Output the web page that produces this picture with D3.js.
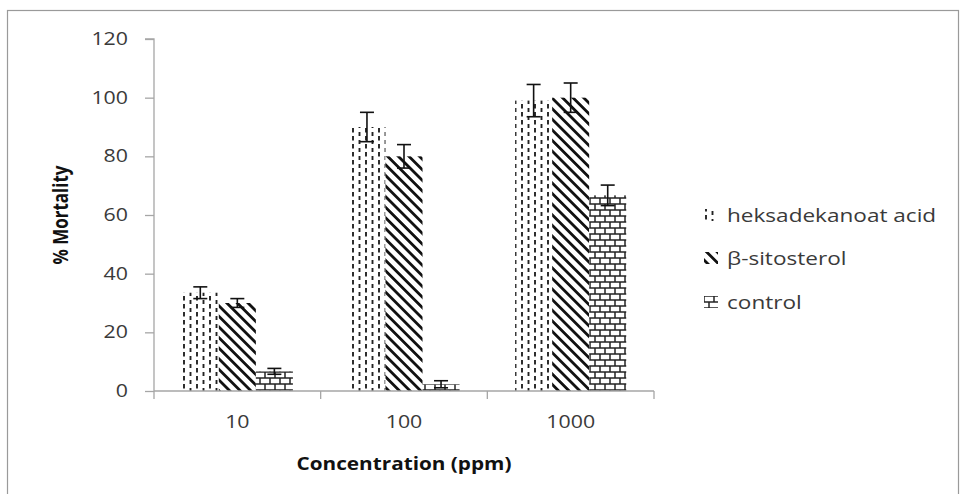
<!DOCTYPE html>
<html><head><meta charset="utf-8">
<script src="https://cdn.jsdelivr.net/npm/d3@7"></script>
<style>body{margin:0;background:#fff}svg{display:block}text{font-family:"Open Sans",sans-serif}</style>
</head><body>
<svg id="c" width="967" height="494"></svg>
<script>
const categories = ["10", "100", "1000"];
const series = ["heksadekanoat acid", "β-sitosterol", "control"];
const heksValues = [33.5, 90, 99];
const heksErrors = [2, 5, 5.5];
const sitoValues = [30, 80, 100];
const sitoErrors = [1.5, 4, 5];
const controlValues = [6.7, 2.3, 66.7];
const controlErrors = [1, 1.2, 3.5];
const yTicks = [0, 20, 40, 60, 80, 100, 120];

const valuesBySeries = [heksValues, sitoValues, controlValues];
const errorsBySeries = [heksErrors, sitoErrors, controlErrors];
const patternIds = ["pDash", "pDiag", "pBrick"];

const svg = d3.select("#c");
const SX = 1.22;
const textColor = "#3a3a3a";
const axisColor = "#a6a6a6";

// outer frame
svg.append("rect").attr("x", 7.5).attr("y", 10.5).attr("width", 951).attr("height", 500)
  .attr("fill", "none").attr("stroke", "#9a9a9a").attr("stroke-width", 1.2);

const defs = svg.append("defs");
// dashed vertical pattern
const p1 = defs.append("pattern").attr("id", "pDash").attr("patternUnits", "userSpaceOnUse")
  .attr("width", 13).attr("height", 8);
p1.append("rect").attr("width", 13).attr("height", 8).attr("fill", "#fff");
p1.append("line").attr("x1", 2).attr("x2", 2).attr("y1", 0).attr("y2", 4.5).attr("stroke", "#222").attr("stroke-width", 1.9);
p1.append("line").attr("x1", 8.5).attr("x2", 8.5).attr("y1", 4).attr("y2", 8.5).attr("stroke", "#222").attr("stroke-width", 1.9);
// diagonal stripes (top-left to bottom-right)
const p2 = defs.append("pattern").attr("id", "pDiag").attr("patternUnits", "userSpaceOnUse")
  .attr("width", 7.5).attr("height", 7.5).attr("patternTransform", "rotate(45)");
p2.append("rect").attr("width", 7.5).attr("height", 7.5).attr("fill", "#fff");
p2.append("rect").attr("x", 0).attr("y", 0).attr("width", 7.5).attr("height", 2.8).attr("fill", "#111");
// brick
const p3 = defs.append("pattern").attr("id", "pBrick").attr("patternUnits", "userSpaceOnUse")
  .attr("width", 20).attr("height", 12);
p3.append("rect").attr("width", 20).attr("height", 12).attr("fill", "#fff");
[[0, 0, 20, 0], [0, 6, 20, 6], [0, 12, 20, 12], [5, 0, 5, 6], [15, 0, 15, 6], [0, 6, 0, 12], [10, 6, 10, 12], [20, 6, 20, 12]]
  .forEach(d => p3.append("line").attr("x1", d[0]).attr("y1", d[1]).attr("x2", d[2]).attr("y2", d[3])
    .attr("stroke", "#222").attr("stroke-width", 1.5));

const plot = { left: 154, right: 654, top: 39, bottom: 391 };
const x0 = d3.scaleBand().domain(categories).range([plot.left, plot.right]);
const bw = x0.bandwidth();
const x1 = d3.scaleBand().domain(series).range([bw / 6, bw * 5 / 6]);
const y = d3.scaleLinear().domain([0, 120]).range([plot.bottom, plot.top]);

// bars
series.forEach((s, si) => {
  const g = svg.append("g");
  categories.forEach((c, ci) => {
    const v = valuesBySeries[si][ci];
    const xx = x0(c) + x1(s);
    g.append("rect").attr("x", xx).attr("y", y(v)).attr("width", x1.bandwidth()).attr("height", y(0) - y(v))
      .attr("fill", `url(#${patternIds[si]})`);
  });
});
// error bars
series.forEach((s, si) => {
  categories.forEach((c, ci) => {
    const v = valuesBySeries[si][ci], e = errorsBySeries[si][ci];
    const cx = x0(c) + x1(s) + x1.bandwidth() / 2;
    const cap = 7;
    const g = svg.append("g").attr("stroke", "#111").attr("stroke-width", 1.6);
    g.append("line").attr("x1", cx).attr("x2", cx).attr("y1", y(v + e)).attr("y2", y(v - e));
    g.append("line").attr("x1", cx - cap).attr("x2", cx + cap).attr("y1", y(v + e)).attr("y2", y(v + e));
    g.append("line").attr("x1", cx - cap).attr("x2", cx + cap).attr("y1", y(v - e)).attr("y2", y(v - e));
  });
});

// y axis
const yAxis = d3.axisLeft(y).tickValues(yTicks).tickSize(9).tickPadding(0).tickFormat(d => "");
const ya = svg.append("g").attr("transform", `translate(${plot.left},0)`).call(yAxis);
ya.selectAll("path,line").attr("stroke", axisColor).attr("stroke-width", 1.3);
ya.select(".domain").attr("d", `M-9,${plot.top}H0V${plot.bottom}`);
yTicks.forEach(t => {
  svg.append("text").attr("transform", `translate(128,${y(t) + 6}) scale(${SX},1)`)
    .attr("text-anchor", "end").attr("font-size", 17.5).attr("fill", textColor).text(t);
});
// x axis
const xa = svg.append("g").attr("transform", `translate(0,${plot.bottom})`);
xa.append("line").attr("x1", plot.left).attr("x2", plot.right).attr("stroke", axisColor).attr("stroke-width", 1.3);
const bounds = [plot.left].concat(categories.map(c => x0(c) + bw));
bounds.forEach(b => xa.append("line").attr("x1", b).attr("x2", b).attr("y1", 0).attr("y2", 8)
  .attr("stroke", axisColor).attr("stroke-width", 1.3));
categories.forEach(c => {
  svg.append("text").attr("transform", `translate(${x0(c) + bw / 2},${plot.bottom + 37}) scale(${SX},1)`)
    .attr("text-anchor", "middle").attr("font-size", 17.5).attr("fill", textColor).text(c);
});
// axis titles
svg.append("text").attr("transform", `translate(${(plot.left + plot.right) / 2},${plot.bottom + 79}) scale(${SX},1)`)
  .attr("text-anchor", "middle").attr("font-size", 17).attr("font-weight", "bold").attr("fill", "#111")
  .text("Concentration (ppm)");
svg.append("text").attr("transform", `translate(68,${(plot.top + plot.bottom) / 2}) scale(${SX},1) rotate(-90)`)
  .attr("text-anchor", "middle").attr("font-size", 17).attr("font-weight", "bold").attr("fill", "#111")
  .text("% Mortality");

// legend
const legY = [215, 258, 302];
series.forEach((s, si) => {
  const g = svg.append("g").attr("transform", `translate(704,${legY[si]})`);
  g.append("rect").attr("x", 0).attr("y", -6).attr("width", 14).attr("height", 12).attr("fill", `url(#${patternIds[si]})`);
  g.append("text").attr("transform", `translate(23,6.5) scale(${SX},1)`).attr("font-size", 18.5)
    .attr("fill", textColor).text(s);
});
</script>
</body></html>
